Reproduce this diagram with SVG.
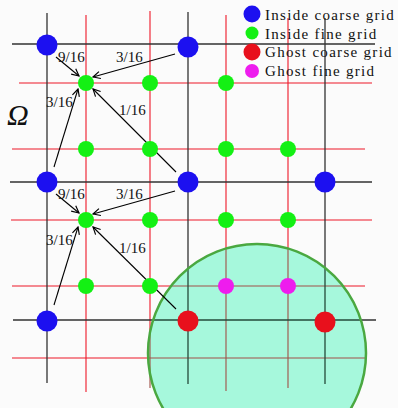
<svg xmlns="http://www.w3.org/2000/svg" width="398" height="408" viewBox="0 0 398 408">
<defs>
<marker id="ah" viewBox="0 0 10 10" refX="9" refY="5" markerWidth="9" markerHeight="9" markerUnits="userSpaceOnUse" orient="auto">
<path d="M1,1 L9,5 L1,9" fill="none" stroke="#000" stroke-width="1.3"/>
</marker>
<style>
.c{stroke:#333;stroke-width:1.3;fill:none}
.f{stroke:#ee1828;stroke-width:1.1;fill:none}
.ci{stroke:#254a3a;stroke-width:1.3;fill:none}
.fi{stroke:#a05048;stroke-width:1.1;fill:none}
.a{stroke:#000;stroke-width:1.1;fill:none;marker-end:url(#ah)}
.lb{font-family:"Liberation Serif",serif;font-size:15px;fill:#111}
.lg{font-family:"Liberation Serif",serif;font-size:15px;fill:#111;letter-spacing:1.3px}
.blue{fill:#1c10f0}
.green{fill:#14f014}
.red{fill:#e8101c}
.mag{fill:#ee1cee}
</style>
</defs>
<rect width="398" height="408" fill="#fbfbfb"/>
<g id="ghost-region">
<circle cx="257" cy="353" r="109" fill="#a6f8dc"/>
</g>
<g id="grid">
<path class="f" d="M86 15V392M150 11V332M226 15V248.5M288 18V248.5M12 286H171M343 286H365M19 83H372M12 149H365M11 220H372M12 358H148"/>
<path class="fi" d="M150 332V388M226 248.5V391M288 248.5V388M171 286H343M148 358H365"/>
<path class="c" d="M47 13V383M188 12V268.6M325 18V268M12 44H375M10 182H372M13 320H153M361 320H376"/>
<path class="ci" d="M188 268.6V384M325 268V384M153 320H361"/>
</g>
<circle cx="257" cy="353" r="109" fill="none" stroke="#4aa840" stroke-width="2.5"/>
<g id="connectors">
<line class="a" x1="56" y1="57" x2="79" y2="76"/>
<line class="a" x1="175" y1="54" x2="93" y2="77"/>
<line class="a" x1="54" y1="167" x2="78" y2="89"/>
<line class="a" x1="176" y1="172" x2="93" y2="89"/>
<line class="a" x1="56" y1="194" x2="79" y2="213"/>
<line class="a" x1="175" y1="191" x2="93" y2="214"/>
<line class="a" x1="54" y1="305" x2="78" y2="227"/>
<line class="a" x1="176" y1="309" x2="93" y2="227"/>
</g>
<g id="labels">
<text class="lb" x="58" y="62">9/16</text>
<text class="lb" x="116" y="62">3/16</text>
<text class="lb" x="46" y="107">3/16</text>
<text class="lb" x="119" y="115">1/16</text>
<text class="lb" x="58" y="199">9/16</text>
<text class="lb" x="116" y="199">3/16</text>
<text class="lb" x="46" y="245">3/16</text>
<text class="lb" x="119" y="253">1/16</text>
<text x="7" y="125" font-family="Liberation Serif,serif" font-style="italic" font-size="30" fill="#111">Ω</text>
</g>
<g id="coarse-nodes">
<circle class="blue" cx="47" cy="45" r="10.5"/>
<circle class="blue" cx="188" cy="47" r="10.5"/>
<circle class="blue" cx="47" cy="182" r="10.5"/>
<circle class="blue" cx="188" cy="182" r="10.5"/>
<circle class="blue" cx="325" cy="182" r="10.5"/>
<circle class="blue" cx="47" cy="321" r="10.5"/>
<circle class="red" cx="188" cy="321" r="10.5"/>
<circle class="red" cx="325" cy="322" r="10.5"/>
</g>
<g id="fine-nodes">
<circle class="green" cx="86" cy="83" r="8"/>
<circle class="green" cx="150" cy="83" r="8"/>
<circle class="green" cx="226" cy="83" r="8"/>
<circle class="green" cx="86" cy="149" r="8"/>
<circle class="green" cx="150" cy="149" r="8"/>
<circle class="green" cx="226" cy="149" r="8"/>
<circle class="green" cx="288" cy="149" r="8"/>
<circle class="green" cx="86" cy="220" r="8"/>
<circle class="green" cx="150" cy="220" r="8"/>
<circle class="green" cx="226" cy="220" r="8"/>
<circle class="green" cx="288" cy="220" r="8"/>
<circle class="green" cx="86" cy="286" r="8"/>
<circle class="green" cx="150" cy="286" r="8"/>
<circle class="mag" cx="226" cy="286" r="8"/>
<circle class="mag" cx="288" cy="286" r="8"/>
</g>
<g id="legend">
<circle class="blue" cx="252" cy="14" r="8.5"/>
<text class="lg" x="265" y="20">Inside coarse grid</text>
<circle class="green" cx="252" cy="33" r="6.5"/>
<text class="lg" x="265" y="38.5">Inside fine grid</text>
<circle class="red" cx="252" cy="52" r="8.5"/>
<text class="lg" x="265" y="57">Ghost coarse grid</text>
<circle class="mag" cx="252" cy="71" r="7"/>
<text class="lg" x="265" y="76">Ghost fine grid</text>
</g>
</svg>
